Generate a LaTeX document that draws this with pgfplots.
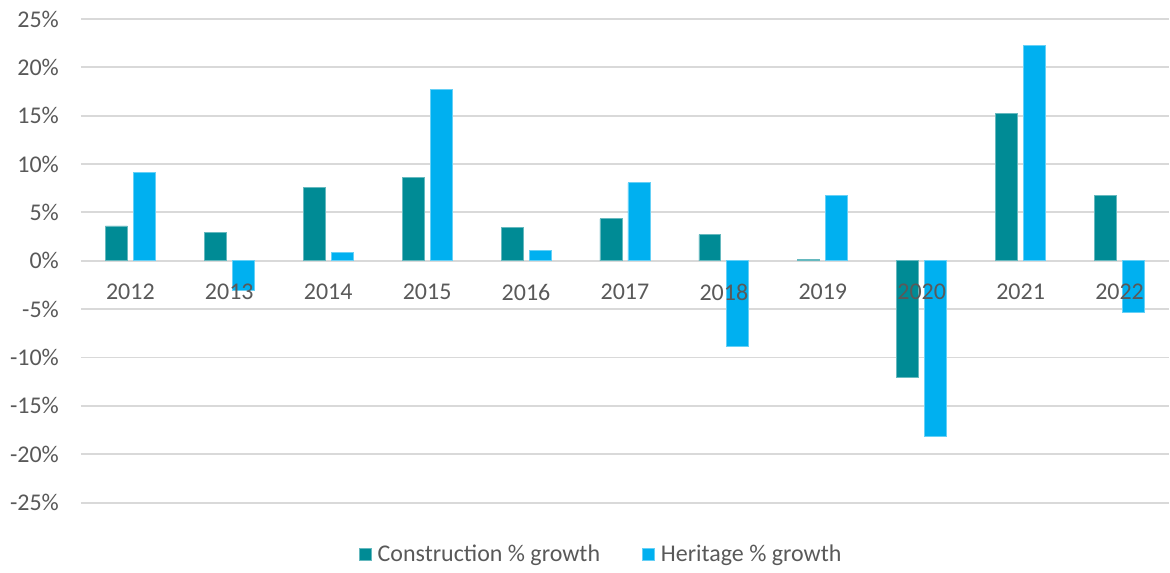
\documentclass[border=0pt]{standalone}
\usepackage{pgfplots}
\pgfplotsset{compat=1.18}
\usepackage{fontspec}
\setmainfont{Carlito}
\definecolor{tealc}{HTML}{008B95}
\definecolor{bluec}{HTML}{00B0F0}
\definecolor{txtc}{HTML}{595959}
\definecolor{gridc}{HTML}{D9D9D9}
\begin{document}
\begin{tikzpicture}
\begin{axis}[at={(0,0)}, anchor=south west, scale only axis,
  width=544.5pt, height=242pt,
  ymin=-25, ymax=25, xmin=-0.5, xmax=10.5,
  ybar=3pt, bar width=11pt,
  axis x line*=middle, axis y line*=left, axis line style={draw=none},
  major tick length=0pt,
  hide obscured x ticks=false, hide obscured y ticks=false,
  ytick={-25,-20,...,25},
  yticklabels={-25\%,-20\%,-15\%,-10\%,-5\%,0\%,5\%,10\%,15\%,20\%,25\%},
  ymajorgrids, grid style={gridc, line width=1pt},
  xtick=\empty,
  tick label style={font=\fontsize{12pt}{14pt}\selectfont, text=txtc},
  yticklabel style={xshift=-7.5pt},
  extra description/.code={
    \foreach \i/\l in {0/2012,1/2013,2/2014,3/2015,4/2016,5/2017,6/2018,7/2019,8/2020,9/2021,10/2022}{
      \node[anchor=north, yshift=-8pt, font=\fontsize{12pt}{14pt}\selectfont, text=txtc] at (axis cs:\i,0) {\l};
    }
  },
  legend style={at={(0.48,-0.107)}, anchor=center, legend columns=2, draw=none, fill=none,
    font=\fontsize{12pt}{14pt}\selectfont, text=txtc,
    nodes={inner xsep=3pt},
    /tikz/every even column/.append style={column sep=18pt}},
  legend image code/.code={\fill[#1] (0pt,-3pt) rectangle (6pt,3pt);},
]
\addplot[fill=tealc, draw=tealc!60!white, line width=0.4pt] coordinates {(0,3.6) (1,2.96) (2,7.54) (3,8.6) (4,3.4) (5,4.34) (6,2.7) (7,0.14) (8,-12.09) (9,15.2) (10,6.8)};
\addlegendentry{Construction \% growth}
\addplot[fill=bluec, draw=bluec!60!white, line width=0.4pt] coordinates {(0,9.16) (1,-3.1) (2,0.83) (3,17.7) (4,1.03) (5,8.06) (6,-8.85) (7,6.8) (8,-18.15) (9,22.3) (10,-5.3)};
\addlegendentry{Heritage \% growth}
\end{axis}
\path (-40.5pt,-33.5pt) rectangle (544.5pt,251.5pt);
\end{tikzpicture}
\end{document}
